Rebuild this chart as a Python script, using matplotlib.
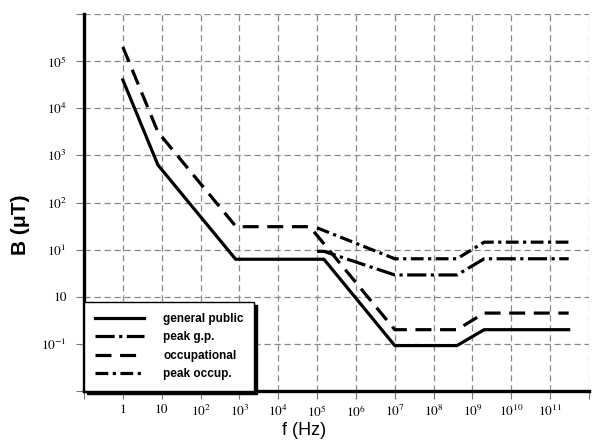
import matplotlib
matplotlib.use("Agg")
import matplotlib.pyplot as plt

plt.rcParams["mathtext.fontset"] = "stix"

# ICNIRP-style magnetic reference levels
GP_F = [1, 8, 800, 1.5e5, 1e7, 4e8, 2e9, 3e11]
GP_B = [4e4, 625, 6.25, 6.25, 0.092, 0.092, 0.2, 0.2]

OCC_F = [1, 8, 820, 6.5e4, 1e7, 4e8, 2e9, 3e11]
OCC_B = [2e5, 3125, 30.7, 30.7, 0.2, 0.2, 0.45, 0.45]

PEAK_GP_F = [1e5, 1.5e5, 1e7, 4e8, 2e9, 3e11]
PEAK_GP_B = [9.2, 9.2, 2.9, 2.9, 6.4, 6.4]

PEAK_OCC_F = [1e5, 1e7, 4e8, 2e9, 3e11]
PEAK_OCC_B = [29, 6.4, 6.4, 14.4, 14.4]

XTICKS = [10.0 ** k for k in range(-1, 13)]
XTICKLABELS = ["", "1", "10"] + [r"$10^{%d}$" % k for k in range(2, 12)] + [""]
YTICKS = [10.0 ** k for k in range(-2, 7)]
# the original labels the 10^0 line as "10"
YTICKLABELS = ["", r"$10^{-1}$", "10", r"$10^{1}$", r"$10^{2}$", r"$10^{3}$",
	r"$10^{4}$", r"$10^{5}$", ""]

fig = plt.figure(figsize = (6.04, 4.48), dpi = 100)
ax = fig.add_axes([84 / 604, 1 - 391 / 448, 505 / 604, 377 / 448])
ax.set_xscale("log")
ax.set_yscale("log")
ax.set_xlim(1e-1, 1e12)
ax.set_ylim(1e-2, 1e6)

ax.set_xticks(XTICKS)
ax.set_xticklabels(XTICKLABELS)
ax.set_yticks(YTICKS)
ax.set_yticklabels(YTICKLABELS)
ax.minorticks_off()
ax.tick_params(axis = "both", direction = "out", length = 5.5, width = 0.8,
	color = "#777777", labelsize = 9.5)
ax.tick_params(axis = "y", pad = 7)
ax.tick_params(axis = "x", pad = 4)
for lab in ax.get_xticklabels() + ax.get_yticklabels():
	lab.set_fontfamily("STIXGeneral")

ax.grid(True, which = "major", color = "#888888", linestyle = (0, (5, 3)),
	linewidth = 0.9)
ax.spines["top"].set_visible(False)
ax.spines["right"].set_visible(False)
ax.spines["left"].set_linewidth(2.4)
ax.spines["bottom"].set_linewidth(2.4)

lw = 2.3
ax.plot(GP_F, GP_B, color = "black", lw = lw, label = "general public")
ax.plot(PEAK_GP_F, PEAK_GP_B, color = "black", lw = lw,
	linestyle = (0, (6, 1.4, 1, 1.4)), label = "peak g.p.")
ax.plot(OCC_F, OCC_B, color = "black", lw = lw,
	linestyle = (0, (5, 2.7)), label = "occupational")
ax.plot(PEAK_OCC_F, PEAK_OCC_B, color = "black", lw = lw,
	linestyle = (0, (4, 1.4, 1, 1.4)), label = "peak occup.")

leg = ax.legend(loc = "lower left", bbox_to_anchor = (0.0, 0.0),
	frameon = True, fancybox = False, handlelength = 4.2, handletextpad = 1.6,
	borderpad = 0.9, labelspacing = 0.55, borderaxespad = 0.0,
	prop = {"family": "Liberation Sans", "weight": "bold", "size": 8.5},
	shadow = {"color": "black", "alpha": 1.0})
leg.get_frame().set_edgecolor("black")
leg.get_frame().set_linewidth(1.0)
leg.get_frame().set_alpha(1.0)

fig.text(304 / 604, 1 - 430 / 448, "f (Hz)", ha = "center", va = "center",
	fontsize = 13, family = "Liberation Sans")
fig.text(20 / 604, 1 - 225 / 448, "B (\u03bcT)", ha = "center", va = "center",
	rotation = 90, fontsize = 15, weight = "bold", family = "Liberation Sans")

plt.savefig("out.png", dpi = 100)
